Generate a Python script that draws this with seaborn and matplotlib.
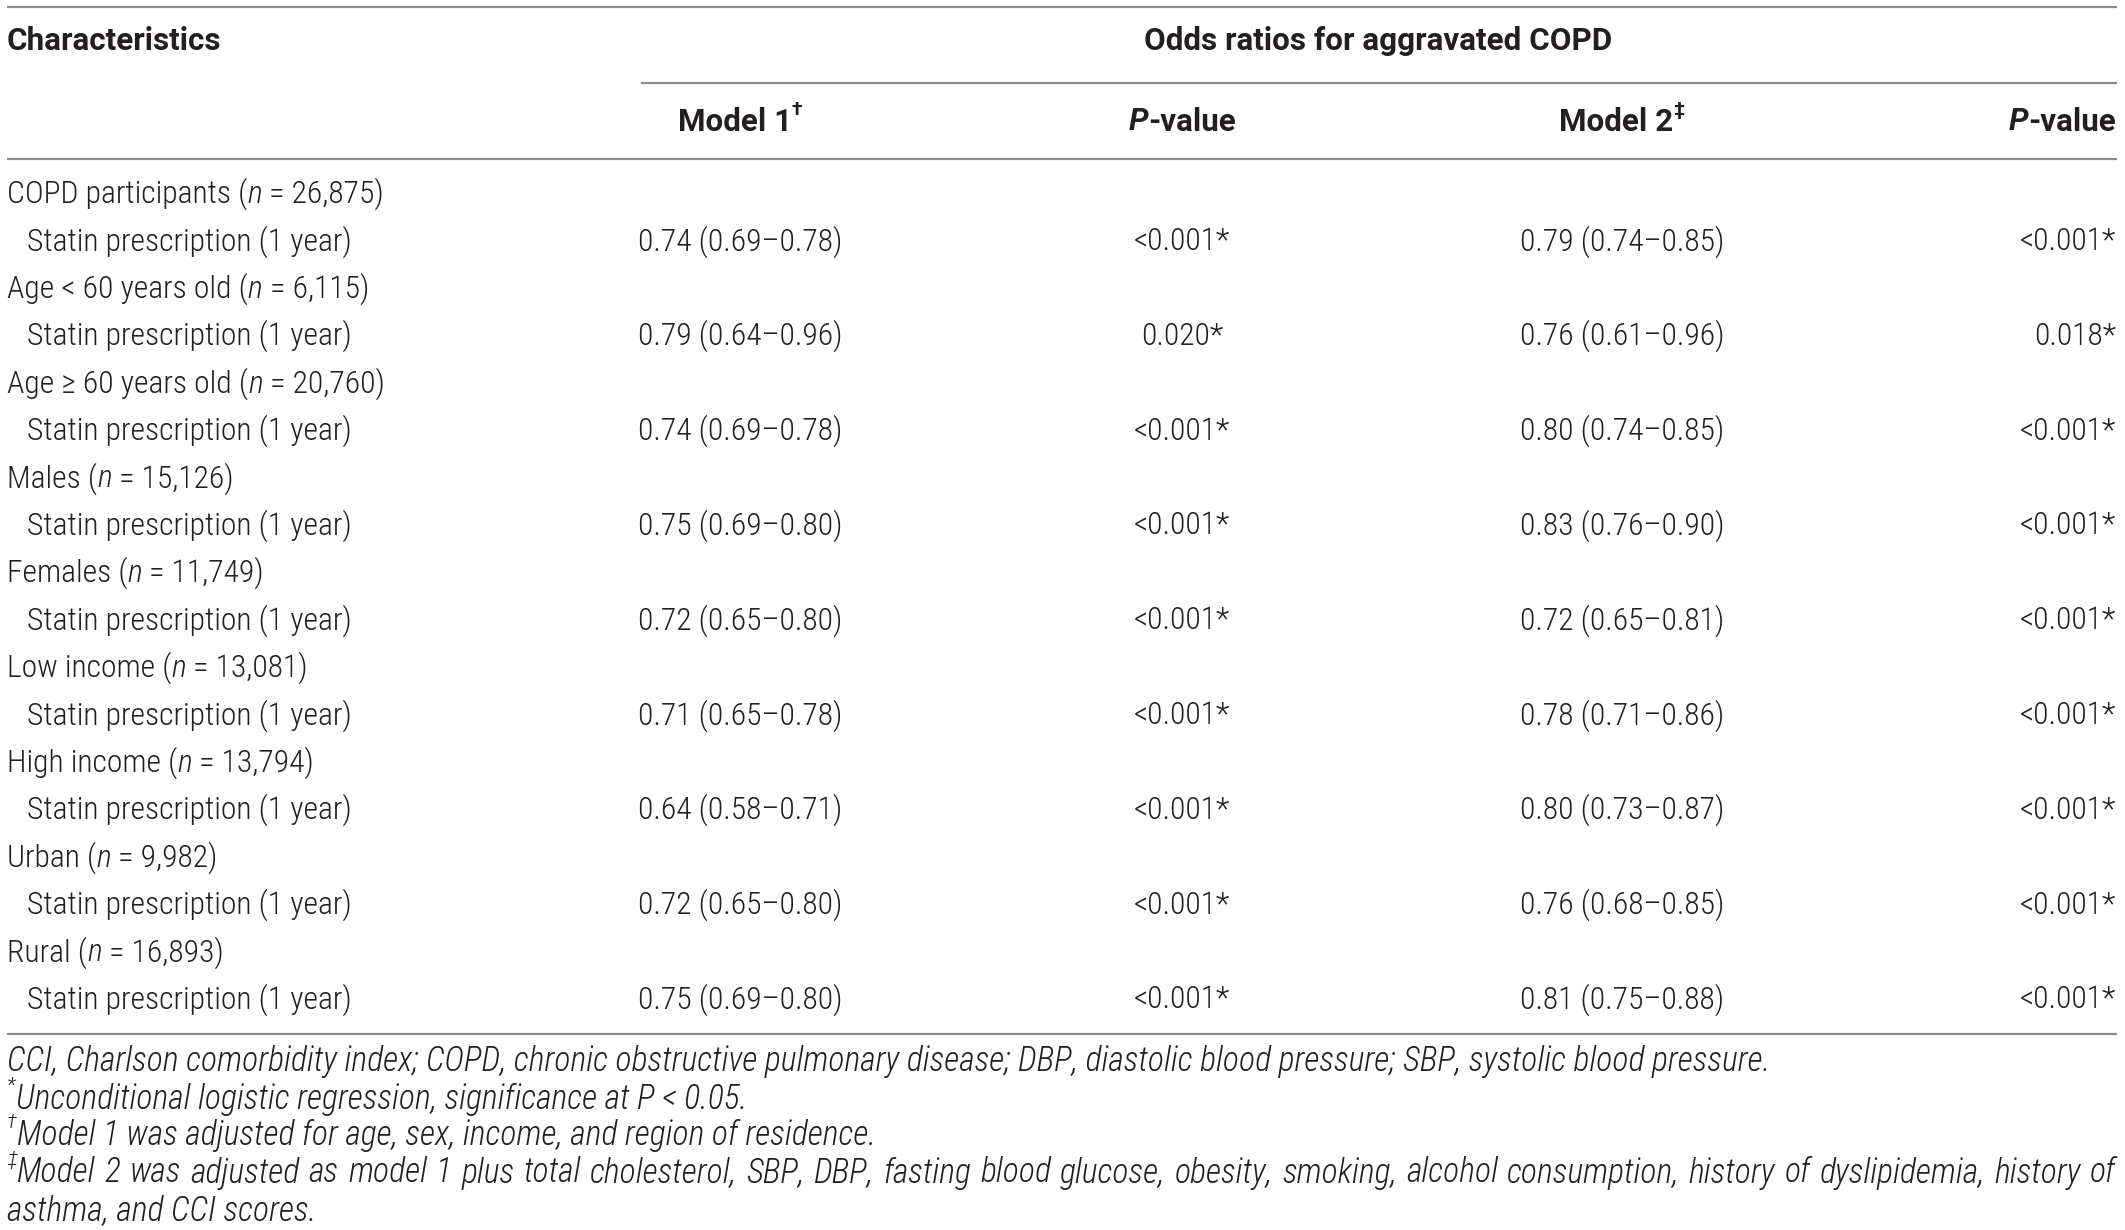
import matplotlib
matplotlib.use("Agg")
import matplotlib.pyplot as plt
from matplotlib import font_manager
import seaborn as sns

# table content
groups = ["COPD participants", "Age < 60 years old", "Age \u2265 60 years old", "Males",
          "Females", "Low income", "High income", "Urban", "Rural"]
group_n = ["26,875", "6,115", "20,760", "15,126", "11,749", "13,081", "13,794", "9,982", "16,893"]
sub_label = "Statin prescription (1 year)"
model1 = ["0.74 (0.69\u20130.78)", "0.79 (0.64\u20130.96)", "0.74 (0.69\u20130.78)",
          "0.75 (0.69\u20130.80)", "0.72 (0.65\u20130.80)", "0.71 (0.65\u20130.78)",
          "0.64 (0.58\u20130.71)", "0.72 (0.65\u20130.80)", "0.75 (0.69\u20130.80)"]
p_model1 = ["<0.001*", "0.020*", "<0.001*", "<0.001*", "<0.001*", "<0.001*",
            "<0.001*", "<0.001*", "<0.001*"]
model2 = ["0.79 (0.74\u20130.85)", "0.76 (0.61\u20130.96)", "0.80 (0.74\u20130.85)",
          "0.83 (0.76\u20130.90)", "0.72 (0.65\u20130.81)", "0.78 (0.71\u20130.86)",
          "0.80 (0.73\u20130.87)", "0.76 (0.68\u20130.85)", "0.81 (0.75\u20130.88)"]
p_model2 = ["<0.001*", "0.018*", "<0.001*", "<0.001*", "<0.001*", "<0.001*",
            "<0.001*", "<0.001*", "<0.001*"]

footnote_marks = ["", "*", "\u2020", "\u2021", ""]
footnote_text = [
    "CCI, Charlson comorbidity index; COPD, chronic obstructive pulmonary disease; "
    "DBP, diastolic blood pressure; SBP, systolic blood pressure.",
    "Unconditional logistic regression, significance at P < 0.05.",
    "Model 1 was adjusted for age, sex, income, and region of residence.",
    "Model 2 was adjusted as model 1 plus total cholesterol, SBP, DBP, fasting "
    "blood glucose, obesity, smoking, alcohol consumption, history of "
    "dyslipidemia, history of",
    "asthma, and CCI scores.",
]
footnote_justify = [False, False, False, True, False]

sns.set_theme(style="white")
installed = {f.name for f in font_manager.fontManager.ttflist}


def pick(cands):
    for c in cands:
        if c in installed:
            return c
    return "DejaVu Sans"


narrow = pick(["Roboto Condensed", "Liberation Sans Narrow", "Roboto", "Liberation Sans"])
wide = pick(["Roboto", "Liberation Sans"])
plt.rcParams["font.family"] = [narrow, "DejaVu Sans"]

W, H = 2125, 1230
fig = plt.figure(figsize=(W / 100, H / 100), dpi=100)
ax = fig.add_axes([0, 0, 1, 1])
ax.set_xlim(0, W)
ax.set_ylim(H, 0)
ax.axis("off")

FS = 22.8
HFS = 22.6
NFS = 24.3
TXT = "#231f20"
LINE = "#8c8c8c"
renderer = fig.canvas.get_renderer()


def runs_text(x, y, runs, ha="left", size=FS, weight="light", family=narrow,
              base_style="normal", justify_to=None):
    # draw a sequence of (text, style) pieces side by side
    objs = []
    for s, st in runs:
        if not s:
            continue
        style = "italic" if ("it" in st or base_style == "italic") else "normal"
        sz = size * 0.62 if "sup" in st else size
        dy = -size * 0.55 if "sup" in st else 0
        t = ax.text(x, y + dy, s, fontsize=sz, fontstyle=style, fontweight=weight,
                    family=[family, "DejaVu Sans"], color=TXT, va="center", ha="left")
        objs.append(t)
    widths = [t.get_window_extent(renderer).width for t in objs]
    total = sum(widths)
    start = {"left": x, "center": x - total / 2, "right": x - total}[ha]
    gap = 0
    if justify_to is not None and len(objs) > 1:
        gap = (justify_to - x - total) / (len(objs) - 1)
    for t, w in zip(objs, widths):
        t.set_x(start)
        start += w + gap


# rules
ax.hlines([7, 159, 1034], 7, 2117, color=LINE, lw=1.6)
ax.hlines(83, 641, 2117, color=LINE, lw=1.6)

# headers
hdr = dict(weight="bold", family=wide, size=HFS)
runs_text(7, 41, [("Characteristics", "")], **hdr)
runs_text(1378, 41, [("Odds ratios for aggravated COPD", "")], ha="center", **hdr)
runs_text(740, 122, [("Model 1", ""), ("\u2020", "sup")], ha="center", **hdr)
runs_text(1182, 122, [("P", "it"), ("-value", "")], ha="center", **hdr)
runs_text(1622, 122, [("Model 2", ""), ("\u2021", "sup")], ha="center", **hdr)
runs_text(2116, 122, [("P", "it"), ("-value", "")], ha="right", **hdr)

# body
row_y0, row_step = 194, 47.4
for i, g in enumerate(groups):
    y1 = row_y0 + 2 * i * row_step
    y2 = y1 + row_step
    runs_text(7, y1, [(g + " (", ""), ("n", "it"), (" = " + group_n[i] + ")", "")])
    runs_text(27, y2, [(sub_label, "")])
    runs_text(740, y2, [(model1[i], "")], ha="center")
    runs_text(1182, y2, [(p_model1[i], "")], ha="center")
    runs_text(1622, y2, [(model2[i], "")], ha="center")
    runs_text(2116, y2, [(p_model2[i], "")], ha="right")

# footnotes
for y, mark, txt, just in zip([1062, 1099, 1136, 1173, 1211], footnote_marks,
                              footnote_text, footnote_justify):
    if just:
        # superscript mark drawn separately, words spread to the right edge
        mw = 0
        if mark:
            m = ax.text(7, y - NFS * 0.55, mark, fontsize=NFS * 0.62, fontstyle="italic",
                        fontweight="light", family=[narrow, "DejaVu Sans"], color=TXT,
                        va="center", ha="left")
            mw = m.get_window_extent(renderer).width
        runs = [(w, "") for w in txt.split(" ")]
        runs_text(7 + mw, y, runs, size=NFS, base_style="italic", justify_to=2116)
    else:
        runs_text(7, y, [(mark, "sup"), (txt, "")], size=NFS, base_style="italic")

fig.savefig("out.png", dpi=100)
